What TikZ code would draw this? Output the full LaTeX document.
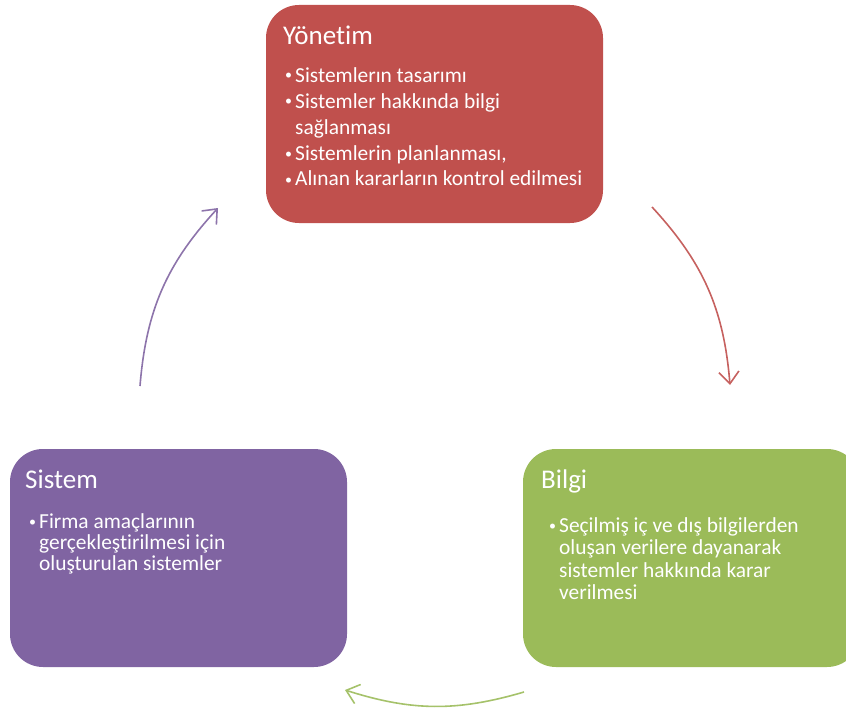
\documentclass[tikz,border=0pt]{standalone}
\usepackage{fontspec}
\setmainfont[Ligatures = NoCommon]{Carlito}
\usetikzlibrary{positioning}
\usetikzlibrary{arrows.meta}

\definecolor{yonetimred}{HTML}{C0504D}
\definecolor{sistempurple}{HTML}{8064A2}
\definecolor{bilgigreen}{HTML}{9BBB59}

\newcommand{\blt}{\makebox[10pt][l]{\raisebox{2pt}{\fontsize{14}{14}\selectfont\textbullet}}}

\begin{document}
\begin{tikzpicture}[x = 1pt, y = 1pt,
    panel/.style = {rounded corners = 33pt, minimum width = 337pt, minimum height = 218pt, inner sep = 0pt},
    heading/.style = {text = white, anchor = base west, inner sep = 0pt, font = \fontsize{27}{27}\selectfont},
    items/.style = {text = white, anchor = base west, inner sep = 0pt},
    cycle/.style = {line width = 1.6pt, -{Straight Barb[length = 12pt, width = 20pt]}}]
    \clip (0, 0) rectangle (846, -709);
    % boxes
    \node[panel, fill = yonetimred] (yonetim) at (434.5, -114) {};
    \node[panel, fill = sistempurple] (sistem) at (178.5, -558) {};
    \node[panel, fill = bilgigreen] (bilgi) at (691.5, -558) {};
    % texts
    \node[heading] (yonetim-title) at (283, -45) {Yönetim};
    \node[items] (yonetim-items) at (285, -82) {\fontsize{21.4}{26}\selectfont
        \begin{tabular}[t]{@{}l@{}l@{}}
            \blt & Sistemlerın tasarımı\\
            \blt & Sistemler hakkında bilgi\\
                 & sağlanması\\
            \blt & Sistemlerin planlanması,\\
            \blt & Alınan kararların kontrol edilmesi
        \end{tabular}};
    \node[heading] (sistem-title) at (25, -488) {Sistem};
    \node[items] (sistem-items) at (29, -528) {\fontsize{21.4}{20.5}\selectfont
        \begin{tabular}[t]{@{}l@{}l@{}}
            \blt & Firma amaçlarının\\
                 & gerçekleştirilmesi için\\
                 & oluşturulan sistemler
        \end{tabular}};
    \node[heading] (bilgi-title) at (541, -488) {Bilgi};
    \node[items] (bilgi-items) at (549, -532) {\fontsize{21.4}{22.5}\selectfont
        \begin{tabular}[t]{@{}l@{}l@{}}
            \blt & Seçilmiş iç ve dış bilgilerden\\
                 & oluşan verilere dayanarak\\
                 & sistemler hakkında karar\\
                 & verilmesi
        \end{tabular}};
    % arrows
    \coordinate (yonetim-out) at (652, -207);
    \coordinate (bilgi-in) at (730, -385);
    \coordinate (bilgi-out) at (524, -692);
    \coordinate (sistem-in) at (345, -690);
    \coordinate (sistem-out) at (140, -386);
    \coordinate (yonetim-in) at (218, -208);
    \draw[cycle, yonetimred!90!white] (yonetim-out) to[bend left = 19] (bilgi-in);
    \draw[cycle, bilgigreen!90!white] (bilgi-out) to[bend left = 17] (sistem-in);
    \draw[cycle, sistempurple!90!white] (sistem-out) to[bend left = 19] (yonetim-in);
\end{tikzpicture}
\end{document}
